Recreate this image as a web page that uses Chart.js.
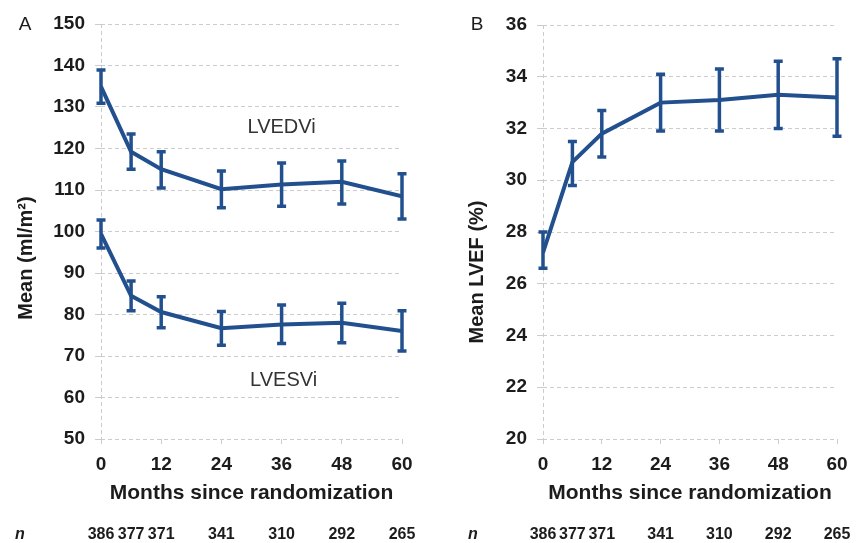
<!DOCTYPE html>
<html><head><meta charset="utf-8">
<script src="https://cdn.jsdelivr.net/npm/chart.js@4"></script>
<style>
html,body{margin:0;padding:0;background:#fff;width:857px;height:543px;overflow:hidden}
#a{position:absolute;left:0;top:0}
#b{position:absolute;left:430px;top:0}
</style></head><body>
<canvas id="a" width="430" height="543"></canvas>
<canvas id="b" width="427" height="543"></canvas>
<script>
// ---- data ----
const months = [0, 6, 12, 24, 36, 48, 60];
const nAtRisk = [386, 377, 371, 341, 310, 292, 265];
const xTicks = [0, 12, 24, 36, 48, 60];

const lvedvi     = [134.9, 119.2, 115.0, 110.2, 111.3, 112.0, 108.5];
const lvedviLow  = [130.9, 115.0, 110.5, 105.7, 106.1, 106.6, 103.0];
const lvedviHigh = [138.9, 123.5, 119.2, 114.6, 116.5, 117.0, 113.9];

const lvesvi     = [99.4, 84.5, 80.6, 76.7, 77.6, 78.0, 76.0];
const lvesviLow  = [96.0, 80.9, 76.8, 72.6, 73.0, 73.2, 71.2];
const lvesviHigh = [102.8, 88.1, 84.3, 80.7, 82.3, 82.7, 80.9];

const lvef     = [27.2, 30.7, 31.8, 33.0, 33.1, 33.3, 33.2];
const lvefLow  = [26.6, 29.8, 30.9, 31.9, 31.9, 32.0, 31.7];
const lvefHigh = [28.0, 31.5, 32.7, 34.1, 34.3, 34.6, 34.7];

const yTicksA = {min: 50, max: 150, step: 10};
const yTicksB = {min: 20, max: 36, step: 2};

// ---- style ----
const FONT = "'Liberation Sans', Arial, Helvetica, sans-serif";
const BLUE = '#22508e';
const GRID = '#cccccc';
const TXT = '#1c1c1c';

const pts = (vals) => months.map((m, i) => ({x: m, y: vals[i]}));

const errorBars = {
  id: 'errorBars',
  afterDatasetsDraw(chart) {
    const {ctx, scales: {x, y}} = chart;
    chart.data.datasets.forEach(ds => {
      if (!ds.errLow) return;
      ctx.save();
      ctx.strokeStyle = ds.borderColor;
      ctx.lineWidth = 3.5;
      ctx.lineCap = 'butt';
      months.forEach((m, i) => {
        const px = x.getPixelForValue(m);
        const y1 = y.getPixelForValue(ds.errLow[i]);
        const y2 = y.getPixelForValue(ds.errHigh[i]);
        ctx.beginPath();
        ctx.moveTo(px, y1); ctx.lineTo(px, y2);
        ctx.moveTo(px - 4.5, y1); ctx.lineTo(px + 4.5, y1);
        ctx.moveTo(px - 4.5, y2); ctx.lineTo(px + 4.5, y2);
        ctx.stroke();
      });
      ctx.restore();
    });
  }
};

const extras = {
  id: 'extras',
  afterDraw(chart, args, o) {
    const {ctx, scales: {x, y}} = chart;
    ctx.save();
    ctx.fillStyle = TXT;
    // panel letter
    ctx.font = `19px ${FONT}`;
    ctx.textAlign = 'center'; ctx.textBaseline = 'middle';
    ctx.fillText(o.panel, o.panelX, 25);
    // y title
    ctx.save();
    ctx.translate(o.yTitleX, o.yTitleY);
    ctx.rotate(-Math.PI / 2);
    ctx.font = `bold 20px ${FONT}`;
    ctx.fillText(o.yTitle, 0, 0);
    ctx.restore();
    // n row
    ctx.font = `italic bold 16px ${FONT}`;
    ctx.fillText('n', o.nX, 535);
    ctx.font = `bold 16px ${FONT}`;
    months.forEach((m, i) => {
      ctx.fillText(String(nAtRisk[i]), x.getPixelForValue(m), 535);
    });
    // series labels
    if (o.labels) {
      ctx.font = `20px ${FONT}`;
      ctx.fillStyle = '#333';
      o.labels.forEach(l => ctx.fillText(l.text, x.getPixelForValue(l.x), y.getPixelForValue(l.y)));
    }
    ctx.restore();
  }
};

function makeOptions(yt, padRight, padTop, yWidth, extraOpts) {
  return {
    responsive: false,
    animation: false,
    devicePixelRatio: 1,
    layout: {padding: {top: padTop, right: padRight, left: 0, bottom: 0}},
    plugins: {legend: {display: false}, tooltip: {enabled: false}, extras: extraOpts},
    elements: {point: {radius: 0}, line: {tension: 0}},
    scales: {
      x: {
        type: 'linear', min: 0, max: 60,
        afterBuildTicks: s => { s.ticks = xTicks.map(v => ({value: v})); },
        afterFit: s => { s.height = 104; },
        grid: {
          drawOnChartArea: true,
          color: c => (c.tick && c.tick.value === 0) ? GRID : 'rgba(0,0,0,0)',
          tickColor: GRID, tickLength: 5, lineWidth: 1
        },
        border: {display: false, dash: [4, 3]},
        ticks: {color: TXT, font: {family: FONT, size: 19, weight: 'bold'}, padding: 9, maxRotation: 0},
        title: {display: true, text: 'Months since randomization', color: TXT,
                font: {family: FONT, size: 21, weight: 'bold'}, padding: {top: 0, bottom: 37}}
      },
      y: {
        min: yt.min, max: yt.max,
        afterFit: s => { s.width = yWidth; },
        ticks: {stepSize: yt.step, color: TXT, font: {family: FONT, size: 19, weight: 'bold'}, padding: 10},
        grid: {color: GRID, tickColor: GRID, tickLength: 6, lineWidth: 1},
        border: {display: false, dash: [4, 3]}
      }
    }
  };
}

new Chart(document.getElementById('a'), {
  type: 'line',
  data: {
    datasets: [
      {label: 'LVEDVi', data: pts(lvedvi), errLow: lvedviLow, errHigh: lvedviHigh,
       borderColor: BLUE, borderWidth: 4, fill: false},
      {label: 'LVESVi', data: pts(lvesvi), errLow: lvesviLow, errHigh: lvesviHigh,
       borderColor: BLUE, borderWidth: 4, fill: false}
    ]
  },
  options: makeOptions(yTicksA, 28, 24, 101, {
    panel: 'A', panelX: 25, nX: 20, yTitle: 'Mean (ml/m\u00B2)', yTitleX: 26, yTitleY: 258,
    labels: [{text: 'LVEDVi', x: 36, y: 125}, {text: 'LVESVi', x: 36.4, y: 64.2}]
  }),
  plugins: [errorBars, extras]
});

new Chart(document.getElementById('b'), {
  type: 'line',
  data: {
    datasets: [
      {label: 'LVEF', data: pts(lvef), errLow: lvefLow, errHigh: lvefHigh,
       borderColor: BLUE, borderWidth: 4, fill: false}
    ]
  },
  options: makeOptions(yTicksB, 20, 25, 113, {
    panel: 'B', panelX: 47, nX: 43, yTitle: 'Mean LVEF (%)', yTitleX: 47, yTitleY: 272
  }),
  plugins: [errorBars, extras]
});
</script>
</body></html>
